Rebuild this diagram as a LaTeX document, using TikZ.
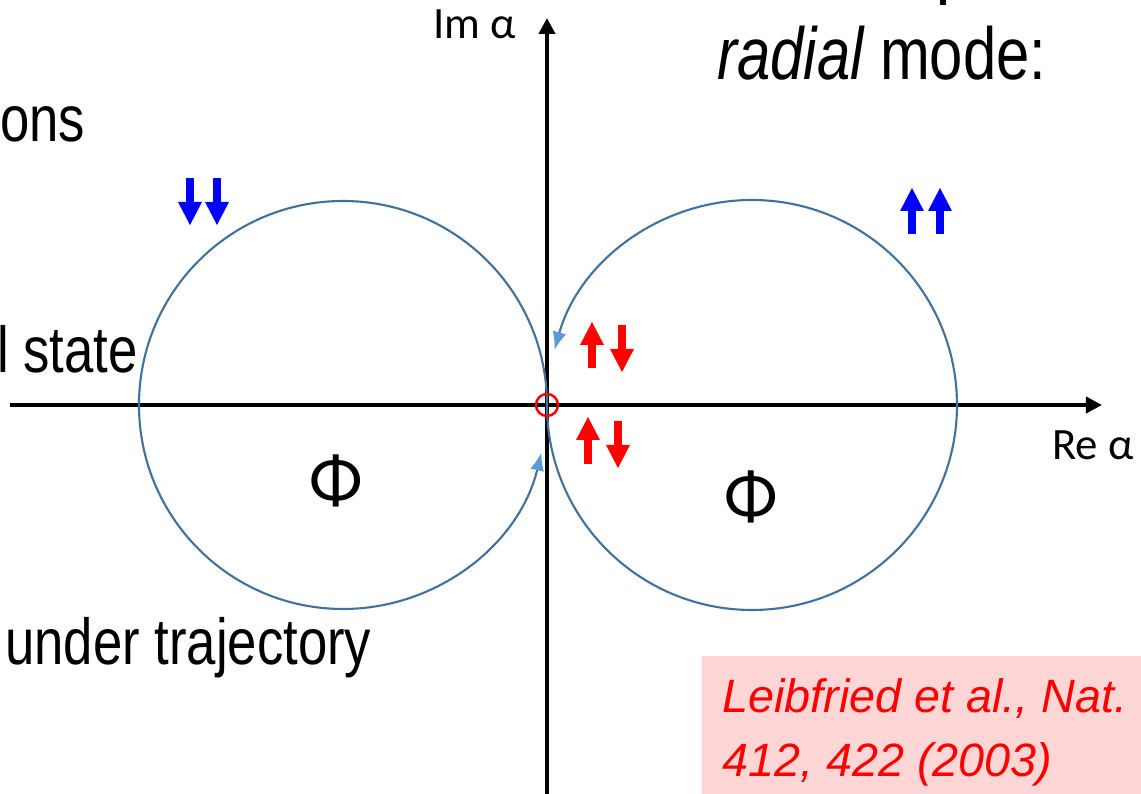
\documentclass[tikz,border=0pt]{standalone}
\usepackage{fontspec}
\setmainfont{Liberation Sans}
\newfontfamily\narrowfont{Liberation Sans}[FakeStretch=0.81]
\newfontfamily\calfont{Carlito}
\usepackage{xcolor}
\usepackage{tikz}
\usetikzlibrary{arrows.meta, positioning, calc}

\definecolor{pathblue}{RGB}{65,113,156}
\definecolor{tipblue}{RGB}{91,155,213}
\definecolor{refpink}{RGB}{255,214,214}

\tikzset{
  axisline/.style={line width=2.2pt, -{Triangle[length=0.32cm, width=0.32cm]}},
  orbit/.style={pathblue, line width=1.2pt, -{Latex[length=0.36cm, width=0.28cm, color=tipblue]}},
  spin/.style={line width=0.16cm, -{Triangle[length=0.46cm, width=0.48cm, line width=0pt]}},
  bigtext/.style={font=\narrowfont\fontsize{37}{44}\selectfont, inner sep=0pt, anchor=base west},
  axislabel/.style={font=\calfont\fontsize{25.5}{30}\selectfont, inner sep=0pt, anchor=base},
  phase/.style={font=\calfont\fontsize{40}{48}\selectfont, inner sep=0pt}
}

\begin{document}
\begin{tikzpicture}
      \useasboundingbox (-10.94,-7.78) rectangle (11.88,8.10);
      \coordinate (O) at (0,0);

      % Reference box
      \fill[refpink] (3.1,-5.02) rectangle (11.88,-7.78);

      % Axes
      \coordinate (reL) at (-10.74,0);
      \coordinate (reR) at (11.10,0);
      \coordinate (imB) at (0,-7.78);
      \coordinate (imT) at (0,7.74);
      \draw[axisline] (reL) -- (reR);
      \draw[axisline] (imB) -- (imT);
      \node[axislabel] (imlabel) at (-1.44,7.32) {Im α};
      \node[axislabel] (relabel) at (10.92,-1.1) {Re α};

      % Closed loops in phase space
      \draw[orbit] (O) arc[start angle=0, end angle=346.5, radius=4.08];
      \draw[orbit] (O) arc[start angle=180, end angle=524.4, radius=4.10];
      \draw[red, line width=1.4pt] (O) circle (0.22);
      \node[phase] (phileft) at (-4.22,-1.52) {Φ};
      \node[phase] (phiright) at (4.08,-1.84) {Φ};

      % Spin states
      \foreach \x in {-7.14, -6.6} {
        \draw[spin, blue] (\x,4.54) -- (\x,3.6);
      }
      \foreach \x in {7.3, 7.86} {
        \draw[spin, blue] (\x,3.42) -- (\x,4.34);
      }
      \draw[spin, red] (0.9,0.74) -- (0.9,1.66);
      \draw[spin, red] (1.5,1.6) -- (1.5,0.66);
      \draw[spin, red] (0.82,-1.18) -- (0.82,-0.24);
      \draw[spin, red] (1.42,-0.32) -- (1.42,-1.26);

      % Slide text
      \fill (7.86,8.0) rectangle (7.98,8.12);
      \node[bigtext, font=\narrowfont\fontsize{42}{50}\selectfont] (mode) at (3.4,6.5) {\itshape radial\upshape{} mode:};
      \node[bigtext] (ons) at (-10.94,5.26) {ons};
      \node[bigtext] (state) at (-11.0,0.64) {l state};
      \node[bigtext] (area) at (-10.84,-5.2) {under trajectory};
      \node[red, font=\itshape\fontsize{26.6}{36}\selectfont, inner sep=0pt, anchor=base west] (ref1) at (3.5,-6.16) {Leibfried et al., Nat.};
      \node[red, font=\itshape\fontsize{26.6}{36}\selectfont, inner sep=0pt, anchor=base west] (ref2) at (3.5,-7.44) {412, 422 (2003)};
    \end{tikzpicture}
\end{document}
